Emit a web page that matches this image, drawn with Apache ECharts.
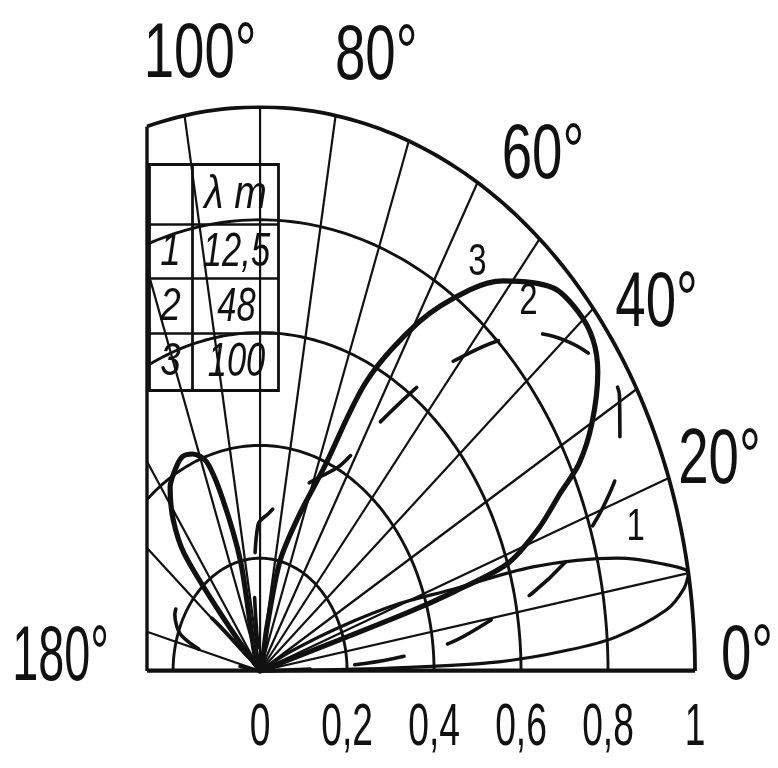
<!DOCTYPE html>
<html>
<head>
<meta charset="utf-8">
<script src="https://cdn.jsdelivr.net/npm/echarts@6/dist/echarts.min.js"></script>
<style>
  html, body { margin: 0; padding: 0; background: #fff; }
  #chart { width: 778px; height: 768px; }
</style>
</head>
<body>
<div id="chart"></div>
<script>
// Vertical radiation patterns: [elevation angle, deg ; relative field strength]
const pattern1 = [[0,0],[1,0.30],[1.7,0.55],[3,0.71],[4.2,0.82],[6.6,0.94],[8.5,0.985],[10,1.0],[11.7,0.94],[13.7,0.845],[16.4,0.654],[18.2,0.46],[20.5,0.34],[23,0.2],[26,0.08],[28,0]];
const pattern2 = [[0,0],[2,0.15],[4,0.30],[6.5,0.44],[9.7,0.54],[12.4,0.64],[16.2,0.75],[20.2,0.84],[24.6,0.91],[30.6,0.96],[37,0.94],[43.5,0.87],[47,0.80],[50,0.73],[53,0.66],[58,0.52],[63,0.41],[70,0.36],[80,0.31],[86,0.28],[91,0.26],[95,0.15],[98,0],
                  [135,0],[140,0.15],[146,0.22],[153,0.22],[161,0.19],[168,0.1],[172,0]];
const pattern3 = [[16,0],[17,0.35],[17.5,0.47],[18.5,0.6],[21.6,0.69],[24.6,0.76],[26.6,0.82],[29.9,0.88],[34.3,0.94],[37.5,0.965],[41,0.97],[45.2,0.957],[51,0.89],[54.5,0.83],[59.4,0.72],[64.5,0.57],[67.8,0.39],[72,0.29],[76.8,0.2],[78.5,0.08],[79.5,0],
                  [102,0],[103,0.2],[105.7,0.315],[108.3,0.39],[112,0.415],[115,0.42],[118,0.41],[122.4,0.386],[126.7,0.334],[130,0.27],[132,0.12],[133,0]];

// Legend table: curve number and wavelength in metres
const curveNumbers = ['1', '2', '3'];
const wavelengths = ['12,5', '48', '100'];

// Polar grid
const radiusRings = [0.2, 0.4, 0.6, 0.8, 1];
const radialAngles = [10, 20, 30, 40, 50, 60, 70, 80, 90, 100, 110, 125, 140, 165];
const frameX = -0.26;

// Tick labels
const radiusTicks = [0, 0.2, 0.4, 0.6, 0.8, 1];
const radiusTickLabels = ['0', '0,2', '0,4', '0,6', '0,8', '1'];
const angleTicks = [0, 20, 40, 60, 80, 100];
const angleTickLabels = ['0°', '20°', '40°', '60°', '80°', '100°'];
const leftEndLabel = '180°';

const INK = '#111111';
const FONT = '"Liberation Sans", Arial, sans-serif';

const rad = d => d * Math.PI / 180;
const toXY = (deg, r) => [r * Math.cos(rad(deg)), r * Math.sin(rad(deg))];

// rings, clipped on the left by the frame line
const ringLines = radiusRings.map(r => {
  const end = r > -frameX ? Math.acos(frameX / r) * 180 / Math.PI : 180;
  const pts = [];
  for (let a = 0; a < end; a += 1) pts.push(toXY(a, r));
  pts.push(toXY(end, r));
  return { coords: pts, lineStyle: { width: r === 1 ? 3.8 : 2.9 } };
});

const radialLines = radialAngles.map(a => {
  const c = Math.cos(rad(a));
  const len = c < 0 ? Math.min(1, frameX / c) : 1;
  return { coords: [[0, 0], toXY(a, len)] };
});

// caption placement [angle, radius] for the angle captions and curve numbers
const angleCaptionPos = [[1.2, 1.12], [19.4, 1.12], [35.5, 1.12], [54.5, 1.12], [76.2, 1.12], [97.2, 1.10]];
const curveTagPos = [[16.4, 0.90], [46.7, 0.90], [55.4, 0.88]];

const chart = echarts.init(document.getElementById('chart'), null, { renderer: 'canvas' });

const lineCurve = (name, data, style) => ({
  name, type: 'line', data: data.map(p => toXY(p[0], p[1])),
  showSymbol: false, smooth: 0.3, clip: false, silent: true, z: 5,
  lineStyle: Object.assign({ color: INK, cap: 'round', join: 'round' }, style)
});

chart.setOption({
  backgroundColor: '#ffffff',
  animation: false,
  grid: { left: 147, right: 83, top: 107, bottom: 97 },
  xAxis: { type: 'value', min: frameX, max: 1, show: false },
  yAxis: { type: 'value', min: 0, max: 1, show: false },
  series: [
    {
      type: 'lines', coordinateSystem: 'cartesian2d', polyline: true, silent: true, z: 2,
      lineStyle: { color: INK, width: 2.9, opacity: 1 },
      data: ringLines
    },
    {
      type: 'lines', coordinateSystem: 'cartesian2d', polyline: true, silent: true, z: 2,
      lineStyle: { color: INK, width: 2.2, opacity: 1 },
      data: radialLines
    },
    {
      type: 'lines', coordinateSystem: 'cartesian2d', polyline: true, silent: true, z: 3,
      lineStyle: { color: INK, width: 3.4, opacity: 1 },
      data: [
        { coords: [[frameX, 0], [frameX, Math.sqrt(1 - frameX * frameX)]] },
        { coords: [[frameX, 0], [1, 0]], lineStyle: { width: 5 } }
      ]
    },
    lineCurve('λ = 12,5 m', pattern1, { width: 3.2 }),
    lineCurve('λ = 48 m', pattern2, { width: 3.6, type: [50, 45] }),
    lineCurve('λ = 100 m', pattern3, { width: 5.2 })
  ]
});

// Text placed through the chart's own coordinate conversion, drawn narrow like lettering
const px = v => chart.convertToPixel({ gridIndex: 0 }, v);
const narrowText = (text, p, size, sx, align, vAlign) => ({
  type: 'text', x: p[0], y: p[1], scaleX: sx, z: 120, silent: true,
  style: { text, fill: INK, font: size + 'px ' + FONT, align: align || 'center', verticalAlign: vAlign || 'middle' }
});

const texts = [];
radiusTicks.forEach((v, i) => {
  const p = px([v, 0]);
  texts.push(narrowText(radiusTickLabels[i], [p[0], p[1] + 27], 60, 0.62, 'center', 'top'));
});
angleTicks.forEach((t, i) => {
  texts.push(narrowText(angleTickLabels[i], px(toXY(angleCaptionPos[i][0], angleCaptionPos[i][1])), 78, 0.7));
});
{
  const p = px([frameX, 0]);
  texts.push(narrowText(leftEndLabel, [p[0] - 38, p[1] - 13], 78, 0.6, 'right', 'middle'));
}
curveNumbers.forEach((n, i) => {
  texts.push(narrowText(n, px(toXY(curveTagPos[i][0], curveTagPos[i][1])), 44, 0.75));
});

const table = {
  type: 'group', left: 147, top: 162, z: 100,
  children: [
    { type: 'rect', shape: { x: 0, y: 0, width: 129, height: 226 }, style: { fill: '#fff', stroke: INK, lineWidth: 2.8 } },
    { type: 'line', shape: { x1: 43, y1: 0, x2: 43, y2: 226 }, style: { stroke: INK, lineWidth: 2.8 } },
    { type: 'line', shape: { x1: 0, y1: 60, x2: 129, y2: 60 }, style: { stroke: INK, lineWidth: 2.4 } },
    { type: 'line', shape: { x1: 0, y1: 114, x2: 129, y2: 114 }, style: { stroke: INK, lineWidth: 2.4 } },
    { type: 'line', shape: { x1: 0, y1: 169, x2: 129, y2: 169 }, style: { stroke: INK, lineWidth: 2.4 } },
    { type: 'text', x: 86, y: 31, scaleX: 0.85, style: { text: 'λ m', fill: INK, font: 'italic 46px ' + FONT, align: 'center', verticalAlign: 'middle' } }
  ].concat(curveNumbers.map((n, i) => ({
    type: 'text', x: 21, y: 88 + i * 55, scaleX: 0.8,
    style: { text: n, fill: INK, font: 'italic 46px ' + FONT, align: 'center', verticalAlign: 'middle' }
  }))).concat(wavelengths.map((w, i) => ({
    type: 'text', x: 87, y: 88 + i * 55, scaleX: 0.72,
    style: { text: w, fill: INK, font: 'italic 48px ' + FONT, align: 'center', verticalAlign: 'middle' }
  })))
};

chart.setOption({ graphic: [table].concat(texts) });
</script>
</body>
</html>
